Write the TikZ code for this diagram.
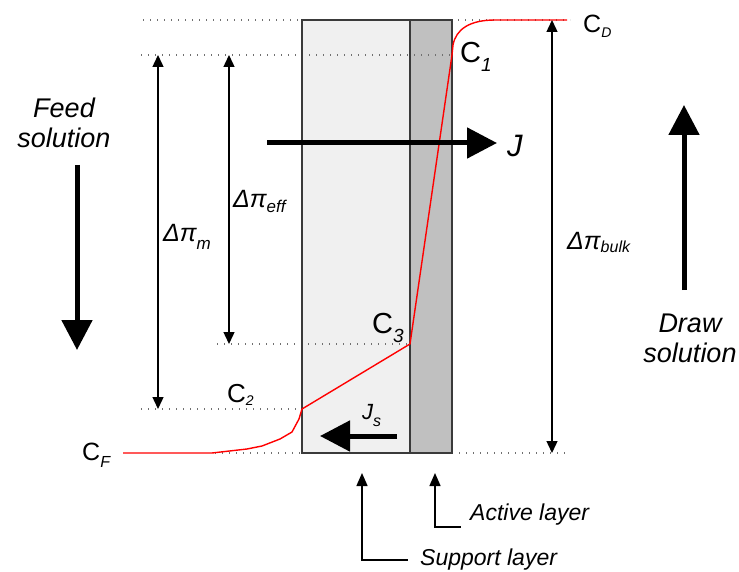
\documentclass[tikz,border=0pt]{standalone}
\usepackage{fontspec}
\setmainfont{Liberation Sans}
\usetikzlibrary{arrows.meta}
\definecolor{supp}{HTML}{F0F0F0}
\definecolor{act}{HTML}{C0C0C0}
\definecolor{edgec}{HTML}{3A3A3A}
\definecolor{dotc}{HTML}{707070}
\newcommand{\fs}[1]{\fontsize{#1}{#1}\selectfont}
\begin{document}
\begin{tikzpicture}[x=1pt,y=-1pt,
  dotline/.style={dotc, line width=1.1pt, dash pattern=on 1.2pt off 5.8pt},
  thinarr/.style={line width=1.4pt, {Triangle[length=12pt,width=11pt]}-{Triangle[length=12pt,width=11pt]}},
  thickarr/.style={line width=5pt, -{Triangle[length=30pt,width=30pt]}},
  callout/.style={line width=1.4pt, {Triangle[length=13pt,width=11pt]}-},
  lbl/.style={inner sep=0pt, anchor=base west},
  ctext/.style={inner sep=0pt, anchor=base, font=\itshape\fs{27}},
  profile/.style={red, line width=1.4pt, line join=round}
]
\useasboundingbox (0,0) rectangle (739,572);
% layers
\coordinate (sTL) at (302,20); \coordinate (sBR) at (410,453);
\coordinate (aTL) at (410,20); \coordinate (aBR) at (452,453);
\fill[supp] (sTL) rectangle (sBR);
\fill[act] (aTL) rectangle (aBR);
% dotted guide lines
\coordinate (d1a) at (143,20);  \coordinate (d1b) at (570,20);
\coordinate (d2a) at (141,55);  \coordinate (d2b) at (450,55);
\coordinate (d3a) at (217,344); \coordinate (d3b) at (410,344);
\coordinate (d4a) at (141,409); \coordinate (d4b) at (302,409);
\coordinate (d5a) at (215,453); \coordinate (d5b) at (302,453);
\coordinate (d6a) at (452,453); \coordinate (d6b) at (570,453);
\draw[dotline] (d1a) -- (d1b);
\draw[dotline] (d2a) -- (d2b);
\draw[dotline] (d3a) -- (d3b);
\draw[dotline] (d4a) -- (d4b);
\draw[dotline] (d5a) -- (d5b);
\draw[dotline] (d6a) -- (d6b);
\draw[edgec, line width=1.3pt] (sTL) rectangle (sBR);
\draw[edgec, line width=1.3pt] (aTL) rectangle (aBR);
% concentration profile
\coordinate (pF) at (123,453);
\coordinate (p2) at (302,409);
\coordinate (p3) at (410,344);
\coordinate (p1) at (452,55);
\coordinate (pD) at (567,20);
\draw[profile] (pF) -- (212,453) -- (247,449) -- (262,446) -- (280,439) -- (292,432) -- (299,419) -- (p2)
  -- (p3) -- (p1) -- (453,45) .. controls (456,29) and (470,20) .. (495,20) -- (pD);
% difference arrows
\coordinate (mT) at (158,55);  \coordinate (mB) at (158,409);
\coordinate (eT) at (229,55);  \coordinate (eB) at (229,344);
\coordinate (bT) at (552,20);  \coordinate (bB) at (552,453);
\draw[thinarr] (mT) -- (mB);
\draw[thinarr] (eT) -- (eB);
\draw[thinarr] (bT) -- (bB);
% thick flow arrows
\coordinate (jS) at (267,143); \coordinate (jE) at (497,143);
\coordinate (jsS) at (397,436); \coordinate (jsE) at (320,436);
\coordinate (fS) at (77,165); \coordinate (fE) at (77,350);
\coordinate (dS) at (684,290); \coordinate (dE) at (684,105);
\draw[thickarr] (jS) -- (jE);
\draw[thickarr] (jsS) -- (jsE);
\draw[thickarr] (fS) -- (fE);
\draw[thickarr] (dS) -- (dE);
% callouts
\coordinate (supTip) at (362,473); \coordinate (supEnd) at (408,560);
\coordinate (actTip) at (435,473); \coordinate (actEnd) at (461,527);
\draw[callout] (supTip) |- (supEnd);
\draw[callout] (actTip) |- (actEnd);
% labels
\node[lbl] (lCD) at (583,33) {\fs{25}C\raisebox{-5pt}{\fs{14}\itshape D}};
\node[lbl] (lC1) at (460,63) {\fs{29}C\raisebox{-9pt}{\fs{19}\itshape 1}};
\node[lbl] (lC3) at (372,333) {\fs{29}C\raisebox{-9pt}{\fs{19}\itshape 3}};
\node[lbl] (lC2) at (227,402) {\fs{26}C\raisebox{-3pt}{\fs{14}\itshape 2}};
\node[lbl] (lCF) at (82,460) {\fs{25}C\raisebox{-7pt}{\fs{16}\itshape F}};
\node[lbl] (lJ) at (507,157) {\itshape\fs{31}J};
\node[lbl] (lJs) at (362,419) {\itshape\fs{22}J\raisebox{-7pt}{\fs{16}s}};
\node[lbl] (lPm) at (163,242) {\itshape\fs{25}Δπ\raisebox{-8pt}{\fs{17}m}};
\node[lbl] (lPe) at (233,208) {\itshape\fs{25}Δπ\raisebox{-5pt}{\fs{17}eff}};
\node[lbl] (lPb) at (567,250) {\itshape\fs{25}Δπ\raisebox{-3pt}{\fs{16}bulk}};
\node[ctext] (feed1) at (64,118) {Feed};
\node[ctext] (feed2) at (64,148) {solution};
\node[ctext] (draw1) at (690,332) {Draw};
\node[ctext] (draw2) at (690,362) {solution};
\node[lbl, font=\itshape\fs{23}] (lAct) at (470,520) {Active layer};
\node[lbl, font=\itshape\fs{23}] (lSup) at (420,565) {Support layer};
\end{tikzpicture}
\end{document}
